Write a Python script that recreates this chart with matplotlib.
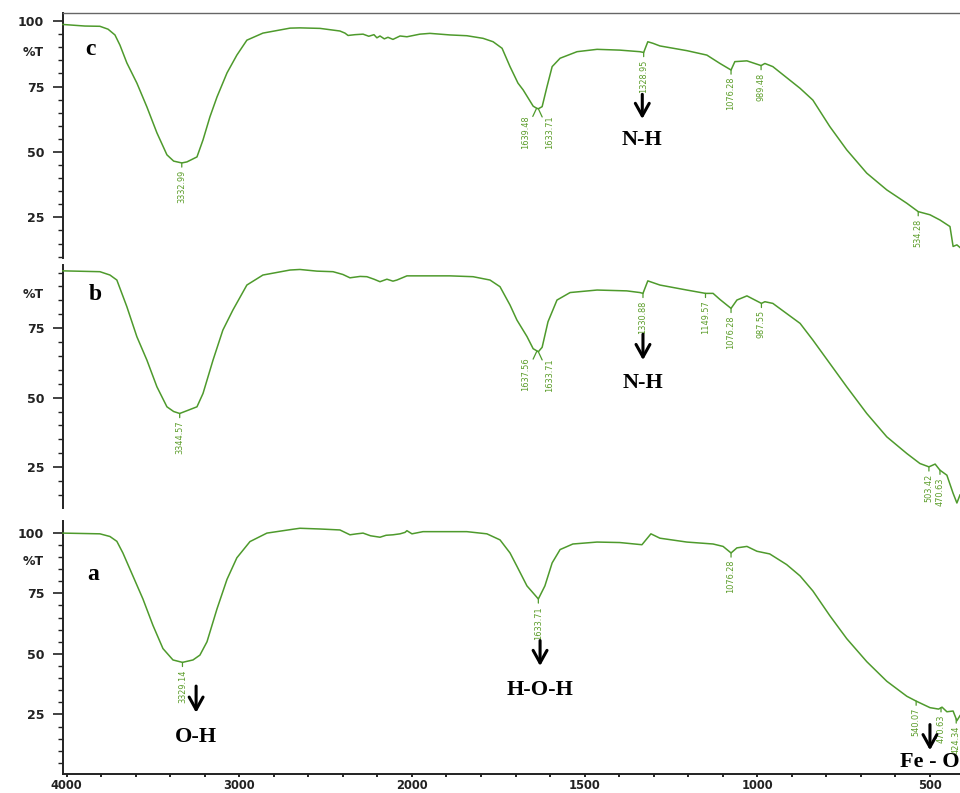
#!/usr/bin/env python3
"""FTIR transmittance spectra of samples a, b and c, stacked in three panels."""

import matplotlib
matplotlib.use("Agg")
import matplotlib.pyplot as plt
import numpy as np
from matplotlib.ticker import FixedLocator

# ---------------------------------------------------------------------------
# Data (wavenumber in cm-1, transmittance in %T)
# ---------------------------------------------------------------------------

wn_c = [4021, 3894, 3807, 3760, 3720, 3691, 3651, 3593, 3535, 3477, 3419, 3380,
        3333, 3303, 3245, 3210, 3170, 3129, 3071, 3014, 2956, 2863, 2706, 2649,
        2532, 2417, 2388, 2370, 2330, 2283, 2250, 2220, 2203, 2185, 2160, 2139,
        2110, 2069, 2029, 1977, 1948, 1890, 1841, 1794, 1765, 1739, 1716, 1693,
        1678, 1649, 1639, 1634, 1623, 1609, 1594, 1571, 1522, 1464, 1398, 1340,
        1329, 1317, 1302, 1282, 1204, 1146, 1108, 1076, 1065, 1030, 989, 978,
        955, 876, 839, 790, 741, 683, 625, 567, 534, 500, 471, 442, 433, 422, 413]
t_c = [98.7, 98.1, 98.0, 96.9, 94.7, 90.8, 84.0, 76.3, 67.2, 57.3, 48.9, 46.5,
       45.8, 46.2, 48.1, 54.6, 63.4, 71.0, 80.2, 87.0, 92.7, 95.4, 97.3, 97.4,
       97.2, 96.2, 95.4, 94.5, 94.8, 95.0, 94.2, 94.8, 93.6, 94.3, 93.2, 93.8,
       93.0, 94.3, 94.0, 95.0, 95.3, 94.7, 94.4, 93.4, 92.1, 89.6, 82.6, 76.3,
       73.7, 67.5, 66.7, 66.5, 67.3, 74.9, 82.6, 85.8, 88.3, 89.2, 88.9, 88.3,
       88.0, 92.1, 91.5, 90.5, 88.7, 87.0, 83.8, 81.3, 84.5, 84.8, 83.0, 83.8,
       82.6, 74.3, 69.8, 59.7, 50.8, 41.9, 35.5, 30.4, 27.2, 26.0, 24.0, 21.5,
       13.9, 14.5, 13.5]

wn_b = [4021, 3807, 3749, 3709, 3651, 3593, 3535, 3477, 3419, 3380, 3345, 3303,
        3245, 3210, 3152, 3095, 3037, 2956, 2863, 2706, 2649, 2550, 2457, 2400,
        2359, 2300, 2261, 2220, 2185, 2145, 2110, 2087, 2029, 1956, 1890, 1823,
        1774, 1745, 1716, 1696, 1667, 1649, 1638, 1634, 1623, 1606, 1580, 1542,
        1464, 1378, 1340, 1331, 1317, 1282, 1204, 1150, 1128, 1108, 1076, 1059,
        1030, 988, 978, 955, 876, 839, 790, 741, 683, 625, 567, 529, 503, 485,
        471, 451, 433, 422, 413]
t_b = [95.6, 95.3, 94.1, 92.3, 82.7, 71.9, 63.5, 53.9, 46.7, 45.0, 44.3, 45.3,
       46.7, 51.5, 63.5, 74.3, 81.5, 90.5, 94.1, 95.9, 96.1, 95.5, 95.3, 94.3,
       93.1, 93.6, 93.5, 92.6, 91.7, 92.6, 91.9, 92.3, 93.8, 93.8, 93.8, 93.5,
       92.3, 89.9, 83.3, 77.9, 72.0, 67.6, 66.8, 66.5, 68.1, 77.3, 85.1, 87.8,
       88.7, 88.4, 87.8, 87.5, 92.0, 90.5, 88.7, 87.5, 87.5, 85.3, 82.1, 85.1,
       86.6, 83.9, 84.5, 83.9, 76.7, 70.7, 62.3, 53.9, 44.3, 35.9, 29.9, 26.3,
       25.1, 26.1, 23.9, 22.1, 15.6, 12.1, 15.0]

wn_a = [4021, 3807, 3749, 3709, 3674, 3616, 3558, 3500, 3442, 3384, 3329, 3268,
        3228, 3187, 3129, 3071, 3014, 2938, 2840, 2689, 2649, 2533, 2417, 2359,
        2320, 2283, 2240, 2185, 2150, 2110, 2069, 2040, 2029, 2000, 1968, 1841,
        1783, 1745, 1716, 1696, 1667, 1634, 1615, 1594, 1571, 1534, 1464, 1398,
        1334, 1308, 1282, 1204, 1128, 1099, 1076, 1059, 1030, 1001, 964, 915,
        876, 839, 790, 741, 683, 625, 567, 540, 500, 475, 465, 451, 433, 422, 413]
t_a = [99.9, 99.6, 98.5, 96.5, 91.7, 82.2, 72.7, 61.8, 52.2, 47.5, 46.5, 47.5,
       49.5, 55.0, 68.6, 80.8, 89.7, 96.4, 99.9, 101.5, 101.9, 101.6, 101.2, 99.2,
       99.6, 99.9, 98.8, 98.2, 99.0, 99.2, 99.6, 100.2, 100.9, 99.6, 100.5, 100.5,
       99.6, 97.1, 91.7, 86.2, 78.1, 72.7, 78.1, 87.6, 93.1, 95.4, 96.2, 96.0,
       95.1, 99.6, 97.8, 96.2, 95.4, 94.4, 91.7, 93.8, 94.4, 92.4, 91.3, 86.9,
       82.2, 76.0, 65.8, 56.3, 46.8, 38.7, 32.5, 30.5, 27.8, 27.2, 28.0, 26.1,
       26.4, 22.4, 24.5]

# Peak picks printed by the instrument: (label, wavenumber, sideways shift in pt)
peaks_c = [("3332.99", 3333, 0), ("1639.48", 1639, -8), ("1633.71", 1634, 8),
           ("1328.95", 1329, 0), ("1076.28", 1076, 0), ("989.48", 989, 0),
           ("534.28", 534, 0)]
peaks_b = [("3344.57", 3345, 0), ("1637.56", 1638, -8), ("1633.71", 1634, 8),
           ("1330.88", 1331, 0), ("1149.57", 1150, 0), ("1076.28", 1076, 0),
           ("987.55", 988, 0), ("503.42", 503, 0), ("470.63", 471, 0)]
peaks_a = [("3329.14", 3329, 0), ("1633.71", 1634, 0), ("1076.28", 1076, 0),
           ("540.07", 540, 0), ("470.63", 468, 0), ("424.34", 424, 0)]

# Band assignments: (label, wavenumber, arrow top, arrow tip, text y)
bands_c = [("N-H", 1333, 72.0, 62.6, 54.6)]
bands_b = [("N-H", 1331, 72.8, 63.5, 55.2)]
bands_a = [("O-H", 3250, 36.7, 25.7, 15.5),
           ("H-O-H", 1629, 55.5, 45.0, 35.1),
           ("Fe - O", 500, 20.8, 10.2, 5.3)]

X_MAJOR = [4000, 3000, 2000, 1500, 1000, 500]

LINE_COLOR = "#4e9a2c"
LABEL_COLOR = "#5a9c28"
SERIF = ["Liberation Serif", "DejaVu Serif"]
NARROW = ["Liberation Sans Narrow", "DejaVu Sans Condensed", "DejaVu Sans"]


# ---------------------------------------------------------------------------
# Axis helpers
# ---------------------------------------------------------------------------

def fwd(x):
    # instrument plots 4000-2000 at half the scale of 2000-400
    x = np.asarray(x, dtype=float)
    return np.where(x > 2000, 2000 + (x - 2000) / 2, x)


def inv(u):
    u = np.asarray(u, dtype=float)
    return np.where(u > 2000, 2000 + (u - 2000) * 2, u)


def label_peaks(ax, wn, t, peaks):
    xs = np.array(wn)[::-1]
    ys = np.array(t)[::-1]
    for text, pos, dx in peaks:
        y = np.interp(pos, xs, ys)
        ax.annotate(
            text, xy=(pos, y), xytext=(dx, -5), textcoords="offset points",
            rotation=90, ha="center", va="top", fontsize=5.9,
            color=LABEL_COLOR, family=NARROW,
            arrowprops=dict(arrowstyle="-", color=LINE_COLOR, lw=0.9,
                            shrinkA=0, shrinkB=0),
        )


def mark_bands(ax, bands):
    for text, x, y0, y1, ytxt in bands:
        ax.annotate(
            "", xy=(x, y1), xytext=(x, y0),
            arrowprops=dict(arrowstyle="->,head_length=0.9,head_width=0.5",
                            lw=2.2, color="black", shrinkA=0, shrinkB=0),
        )
        ax.text(x, ytxt, text, ha="center", va="center", fontsize=16,
                fontweight="bold", family=SERIF, color="black", clip_on=False)


def style_axes(ax, ylim, yticks, ypct, bottom=False, top_frame=False):
    ax.set_xscale("function", functions=(fwd, inv))
    ax.set_xlim(4021, 413)
    ax.set_ylim(*ylim)
    ax.patch.set_alpha(0)

    ax.spines["right"].set_visible(False)
    ax.spines["left"].set_linewidth(1.4)
    ax.spines["left"].set_color("#222222")
    ax.spines["top"].set_visible(top_frame)
    ax.spines["top"].set_color("#666666")
    ax.spines["top"].set_linewidth(1.0)

    lo = int(np.ceil(ylim[0] / 5.0) * 5)
    ax.yaxis.set_major_locator(FixedLocator(yticks))
    ax.yaxis.set_minor_locator(FixedLocator(
        [v for v in range(lo, int(ylim[1]) + 1, 5) if v not in yticks]))
    ax.tick_params(axis="y", which="major", direction="out", length=7.5,
                   width=1.2, pad=6, labelsize=9, colors="#222222")
    ax.tick_params(axis="y", which="minor", direction="out", length=3.8,
                   width=1.0, colors="#222222")
    for lab in ax.get_yticklabels():
        lab.set_fontweight("bold")

    ax.annotate("%T", xy=(0, ypct), xycoords=ax.get_yaxis_transform(),
                xytext=(-14, 0), textcoords="offset points", ha="right",
                va="center", fontsize=9, fontweight="bold", color="#222222")

    if bottom:
        ax.spines["bottom"].set_linewidth(1.4)
        ax.spines["bottom"].set_color("#222222")
        minor = [v for v in range(4000, 2000, -200)] + [v for v in range(2000, 400, -100)]
        ax.xaxis.set_major_locator(FixedLocator(X_MAJOR))
        ax.xaxis.set_minor_locator(FixedLocator([v for v in minor if v not in X_MAJOR]))
        ax.set_xticklabels([str(v) for v in X_MAJOR])
        ax.tick_params(axis="x", which="major", direction="out", length=2.5,
                       width=1.4, pad=1, labelsize=8.3, colors="#222222")
        ax.tick_params(axis="x", which="minor", direction="out", length=2,
                       width=1.4, colors="#222222")
        for lab in ax.get_xticklabels():
            lab.set_fontweight("bold")
    else:
        ax.spines["bottom"].set_visible(False)
        ax.xaxis.set_visible(False)


# ---------------------------------------------------------------------------
# Figure
# ---------------------------------------------------------------------------

def main():
    fig = plt.figure(figsize=(9.6, 7.93), dpi=100)
    fig.patch.set_facecolor("white")

    left, width = 0.0656, 0.9344
    panels = [
        # letter, wn, t, peaks, bands, ylim, yticks, %T y, letter pos, rect
        ("c", wn_c, t_c, peaks_c, bands_c, (9.5, 103.2), [25, 50, 75, 100], 88,
         (3860, 89), [left, 0.6747, width, 0.3093]),
        ("b", wn_b, t_b, peaks_b, bands_b, (10.3, 97.7), [25, 50, 75], 87,
         (3835, 87), [left, 0.3594, width, 0.3064]),
        ("a", wn_a, t_a, peaks_a, bands_a, (0.4, 104.9), [25, 50, 75, 100], 88,
         (3848, 83), [left, 0.0240, width, 0.3190]),
    ]

    for i, (letter, wn, t, peaks, bands, ylim, yticks, ypct, lpos, rect) in enumerate(panels):
        ax = fig.add_axes(rect)
        ax.plot(wn, t, color=LINE_COLOR, lw=1.1, clip_on=False, zorder=3)
        style_axes(ax, ylim, yticks, ypct, bottom=(i == 2), top_frame=(i == 0))
        label_peaks(ax, wn, t, peaks)
        mark_bands(ax, bands)
        ax.text(lpos[0], lpos[1], letter, fontsize=17, fontweight="bold",
                family=SERIF, ha="center", va="center")

    fig.savefig("out.png", dpi=100, facecolor="white")
    plt.close(fig)


if __name__ == "__main__":
    main()
